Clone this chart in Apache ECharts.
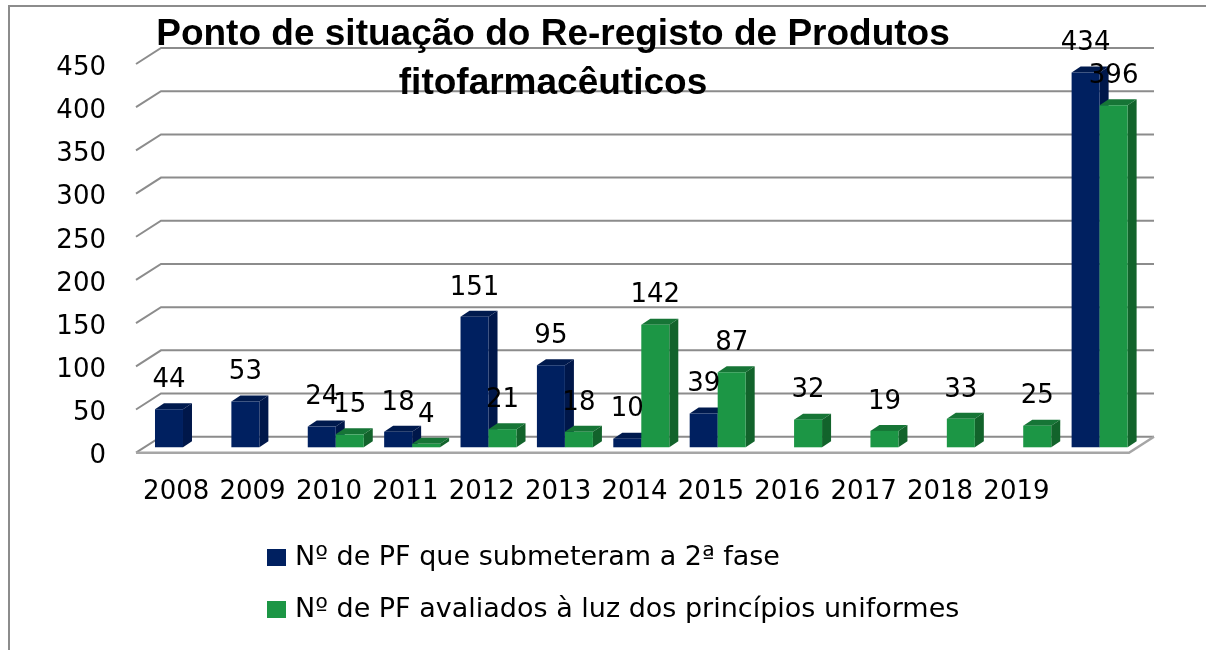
<!DOCTYPE html>
<html>
<head>
<meta charset="utf-8">
<style>
  html, body { margin: 0; padding: 0; background: #fff; }
  #chart { width: 1206px; height: 650px; }
</style>
<script src="https://cdn.jsdelivr.net/npm/echarts@6/dist/echarts.min.js"></script>
</head>
<body>
<div id="chart"></div>
<script>
const titleText = 'Ponto de situação do Re-registo de Produtos\nfitofarmacêuticos'
const categories = ['2008', '2009', '2010', '2011', '2012', '2013', '2014', '2015', '2016', '2017', '2018', '2019', '']
const submittedName = 'Nº de PF que submeteram a 2ª fase'
const evaluatedName = 'Nº de PF avaliados à luz dos princípios uniformes'
const submitted = [44, 53, 24, 18, 151, 95, 10, 39, null, null, null, null, 434]
const evaluated = [null, null, 15, 4, 21, 18, 142, 87, 32, 19, 33, 25, 396]
const yTicks = [0, 50, 100, 150, 200, 250, 300, 350, 400, 450]

const FONT = '"DejaVu Sans", sans-serif'
const GRID_COLOR = '#8c8c8c'

// 3D look: wall sits behind the front plane of the grid, bars stand in the middle
const WALL_DX = 25
const WALL_DY = -16
const BAR_DY = -5.4
const BAR_SHIFT = 8.8
const BAR_WIDTH = 28
const SIDE_DX = 9
const SIDE_DY = -6

const toPoints = list => list
  .map((v, i) => (v === null ? null : [i, v]))
  .filter(Boolean)

// back wall lines and floor
const renderGridLine = (params, api) => {
  const sys = params.coordSys
  const y = api.coord([0, api.value(1)])[1]
  const left = sys.x
  const right = sys.x + sys.width
  const children = [{
    type: 'polyline',
    shape: { points: [[left, y], [left + WALL_DX, y + WALL_DY], [right + WALL_DX, y + WALL_DY]] },
    style: { stroke: GRID_COLOR, lineWidth: 2, fill: null }
  }]
  if (api.value(1) === 0) {
    children.push({
      type: 'polyline',
      shape: { points: [[left, y], [right, y], [right + WALL_DX, y + WALL_DY]] },
      style: { stroke: '#a6a6a6', lineWidth: 2.5, fill: null }
    })
  }
  return { type: 'group', children }
}

const barLeft = (api, offset) => api.coord([api.value(0), 0])[0] + BAR_SHIFT + offset

const makeBarRenderer = (offset, front, top, side) => (params, api) => {
  const x0 = barLeft(api, offset)
  const x1 = x0 + BAR_WIDTH
  const yBase = api.coord([0, 0])[1] + BAR_DY
  const yTop = api.coord([0, api.value(1)])[1] + BAR_DY
  return {
    type: 'group',
    children: [
      { type: 'polygon', shape: { points: [[x0, yTop], [x0 + SIDE_DX, yTop + SIDE_DY], [x1 + SIDE_DX, yTop + SIDE_DY], [x1, yTop]] }, style: { fill: top } },
      { type: 'polygon', shape: { points: [[x1, yTop], [x1 + SIDE_DX, yTop + SIDE_DY], [x1 + SIDE_DX, yBase + SIDE_DY], [x1, yBase]] }, style: { fill: side } },
      { type: 'rect', shape: { x: x0, y: yTop, width: BAR_WIDTH, height: yBase - yTop }, style: { fill: front } }
    ]
  }
}

const makeLabelRenderer = offset => (params, api) => {
  const x = barLeft(api, offset) + BAR_WIDTH / 2
  const y = api.coord([0, api.value(1)])[1] + BAR_DY - 29
  return {
    type: 'text',
    style: {
      x, y,
      text: String(api.value(1)),
      font: '26px ' + FONT,
      fill: '#000',
      align: 'center',
      verticalAlign: 'middle'
    }
  }
}

const chart = echarts.init(document.getElementById('chart'))
chart.setOption({
  backgroundColor: '#fff',
  animation: false,
  graphic: [{
    type: 'rect',
    shape: { x: 9, y: 6, width: 1300, height: 760 },
    style: { fill: null, stroke: GRID_COLOR, lineWidth: 2 },
    z: 0
  }],
  title: {
    text: titleText,
    left: 548,
    top: 5,
    textAlign: 'center',
    textStyle: { fontFamily: '"Liberation Sans", Arial, sans-serif', fontSize: 37, fontWeight: 'bold', color: '#000', lineHeight: 49 },
    z: 20
  },
  legend: {
    orient: 'vertical',
    left: 267,
    top: 544,
    padding: 0,
    itemWidth: 19,
    itemHeight: 17,
    itemGap: 25,
    icon: 'rect',
    data: [
      { name: submittedName, itemStyle: { color: '#002060' } },
      { name: evaluatedName, itemStyle: { color: '#1c9645' } }
    ],
    textStyle: { fontFamily: FONT, fontSize: 27, color: '#000', padding: [0, 0, 0, 4] }
  },
  grid: { left: 136, top: 64, width: 993, height: 388.7 },
  xAxis: {
    type: 'category',
    data: categories,
    axisLine: { show: false },
    axisTick: { show: false },
    axisLabel: { interval: 0, margin: 27, color: '#000', fontFamily: FONT, fontSize: 26, padding: [0, 0, 0, 4] }
  },
  yAxis: {
    type: 'value',
    min: 0,
    max: 450,
    interval: 50,
    axisLine: { show: false },
    axisTick: { show: false },
    splitLine: { show: false },
    axisLabel: { margin: 30, color: '#000', fontFamily: FONT, fontSize: 26, verticalAlign: 'top', lineHeight: 8 }
  },
  series: [
    {
      type: 'custom', silent: true, z: 1, clip: false,
      renderItem: renderGridLine,
      data: yTicks.map(t => [0, t])
    },
    {
      name: submittedName, type: 'custom', z: 2, clip: false,
      itemStyle: { color: '#002060' },
      renderItem: makeBarRenderer(-BAR_WIDTH, '#002060', '#001a4e', '#00174a'),
      data: toPoints(submitted)
    },
    {
      name: evaluatedName, type: 'custom', z: 3, clip: false,
      itemStyle: { color: '#1c9645' },
      renderItem: makeBarRenderer(0, '#1c9645', '#167536', '#12632b'),
      data: toPoints(evaluated)
    },
    { type: 'custom', silent: true, z: 5, clip: false, renderItem: makeLabelRenderer(-BAR_WIDTH), data: toPoints(submitted) },
    { type: 'custom', silent: true, z: 5, clip: false, renderItem: makeLabelRenderer(0), data: toPoints(evaluated) }
  ]
})
</script>
</body>
</html>
